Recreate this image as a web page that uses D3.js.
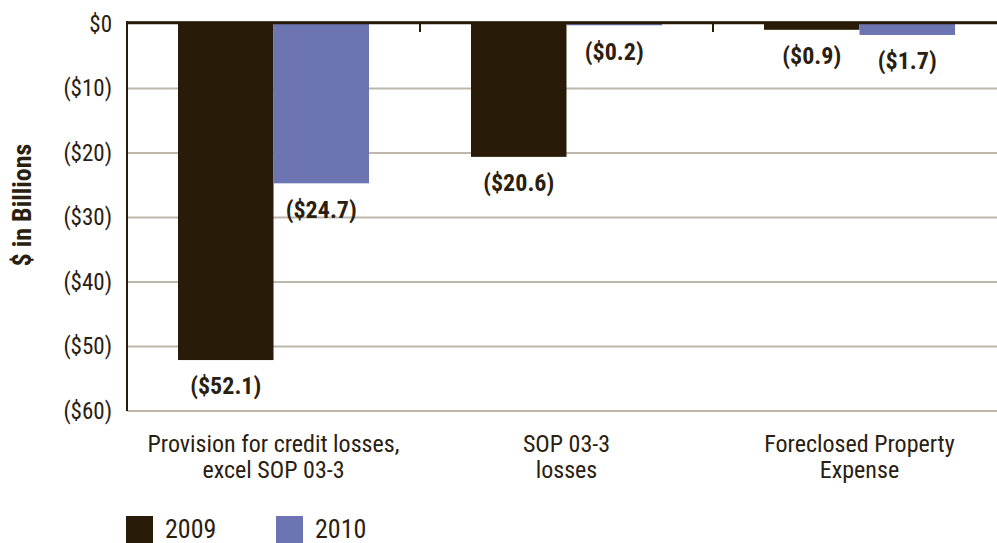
<!DOCTYPE html>
<html>
<head>
<meta charset="utf-8">
<script src="https://cdn.jsdelivr.net/npm/d3@7/dist/d3.min.js"></script>
<style>
  html, body { margin: 0; padding: 0; background: #fff; }
  svg { display: block; }
  text { font-family: "Liberation Sans Narrow", "Roboto Condensed", "Arial Narrow", "Liberation Sans", sans-serif; fill: #2a2010; }
</style>
</head>
<body>
<svg id="chart" width="997" height="543"></svg>
<script>
const categories = [
  ["Provision for credit losses,", "excel SOP 03-3"],
  ["SOP 03-3", "losses"],
  ["Foreclosed Property", "Expense"]
];
const seriesNames = ["2009", "2010"];
const values2009 = [-52.1, -20.6, -0.9];
const values2010 = [-24.7, -0.2, -1.7];
const yTicks = [0, -10, -20, -30, -40, -50, -60];
const yTickLabels = ["$0", "($10)", "($20)", "($30)", "($40)", "($50)", "($60)"];
const colors = ["#281c08", "#6d74b2"];

const svg = d3.select("#chart");
const mLeft = 127, mRight = 1006, mTop = 24, mBottom = 411;

const y = d3.scaleLinear().domain([0, -60]).range([mTop, mBottom]);
const x0 = d3.scaleBand().domain(d3.range(categories.length)).range([mLeft, mRight]).paddingInner(0).paddingOuter(0);
const groupW = 191;
const x1 = d3.scaleBand().domain(seriesNames).range([0, groupW]).padding(0);
const groupOffset = (x0.bandwidth() - groupW) / 2;

// gridlines
svg.append("g").selectAll("line").data(yTicks.filter(d => d !== 0)).join("line")
  .attr("x1", mLeft).attr("x2", 997)
  .attr("y1", d => y(d)).attr("y2", d => y(d))
  .attr("stroke", "#bdb8ab").attr("stroke-width", 2);

// bars
const data = categories.map((c, i) => ({ i, vals: [values2009[i], values2010[i]] }));
const groups = svg.append("g").selectAll("g").data(data).join("g")
  .attr("transform", d => `translate(${x0(d.i) + groupOffset},0)`);
groups.selectAll("rect").data(d => d.vals.map((v, k) => ({ v, k }))).join("rect")
  .attr("x", d => x1(seriesNames[d.k]))
  .attr("width", x1.bandwidth())
  .attr("y", y(0))
  .attr("height", d => y(d.v) - y(0))
  .attr("fill", d => colors[d.k]);

// value labels
groups.selectAll("text").data(d => d.vals.map((v, k) => ({ v, k }))).join("text")
  .attr("x", d => x1(seriesNames[d.k]) + x1.bandwidth() / 2)
  .attr("y", d => y(d.v) + 28)
  .attr("text-anchor", "middle")
  .attr("dominant-baseline", "middle")
  .attr("font-weight", "bold")
  .attr("font-size", 24)
  .text(d => `($${Math.abs(d.v).toFixed(1)})`);

// zero line
svg.append("line").attr("x1", mLeft - 1).attr("x2", 997)
  .attr("y1", y(0) - 2.5).attr("y2", y(0) - 2.5)
  .attr("stroke", "#bdb8ab").attr("stroke-width", 1);
svg.append("line").attr("x1", mLeft - 1).attr("x2", 997)
  .attr("y1", y(0) - 1.2).attr("y2", y(0) - 1.2)
  .attr("stroke", "#281c08").attr("stroke-width", 3);

// category ticks
svg.append("g").selectAll("line").data(d3.range(1, categories.length)).join("line")
  .attr("x1", d => x0(d)).attr("x2", d => x0(d))
  .attr("y1", y(0)).attr("y2", y(0) + 8)
  .attr("stroke", "#281c08").attr("stroke-width", 2);

// left axis
const yAxis = d3.axisLeft(y).tickValues(yTicks).tickSize(0).tickPadding(15)
  .tickFormat((d, i) => yTickLabels[i]);
const ga = svg.append("g").attr("transform", `translate(${mLeft},0)`).call(yAxis);
ga.select(".domain").remove();
ga.selectAll("text").attr("font-size", 23).attr("fill", "#2a2010")
  .attr("font-family", "\"Liberation Sans Narrow\", \"Roboto Condensed\", sans-serif");
svg.append("line").attr("x1", mLeft).attr("x2", mLeft).attr("y1", mTop - 3).attr("y2", mBottom)
  .attr("stroke", "#281c08").attr("stroke-width", 2);

// y title
svg.append("text")
  .attr("transform", `translate(31,205) rotate(-90)`)
  .attr("text-anchor", "middle")
  .attr("font-weight", "bold").attr("font-size", 26)
  .text("$ in Billions");

// category labels
const cl = svg.append("g").selectAll("text").data(categories).join("text")
  .attr("text-anchor", "middle")
  .attr("font-size", 24)
  .attr("x", (d, i) => x0(i) + x0.bandwidth() / 2)
  .attr("y", 452);
cl.selectAll("tspan").data(d => d).join("tspan")
  .attr("x", function() { return d3.select(this.parentNode).attr("x"); })
  .attr("dy", (d, i) => i === 0 ? 0 : 26)
  .text(d => d);

// legend
const legendX = [126, 276];
const lg = svg.append("g").selectAll("g").data(seriesNames).join("g")
  .attr("transform", (d, i) => `translate(${legendX[i]},516)`);
lg.append("rect").attr("width", 27).attr("height", 27).attr("fill", (d, i) => colors[i]);
lg.append("text").attr("x", 39).attr("y", 22).attr("font-size", 26).text(d => d);
</script>
</body>
</html>
